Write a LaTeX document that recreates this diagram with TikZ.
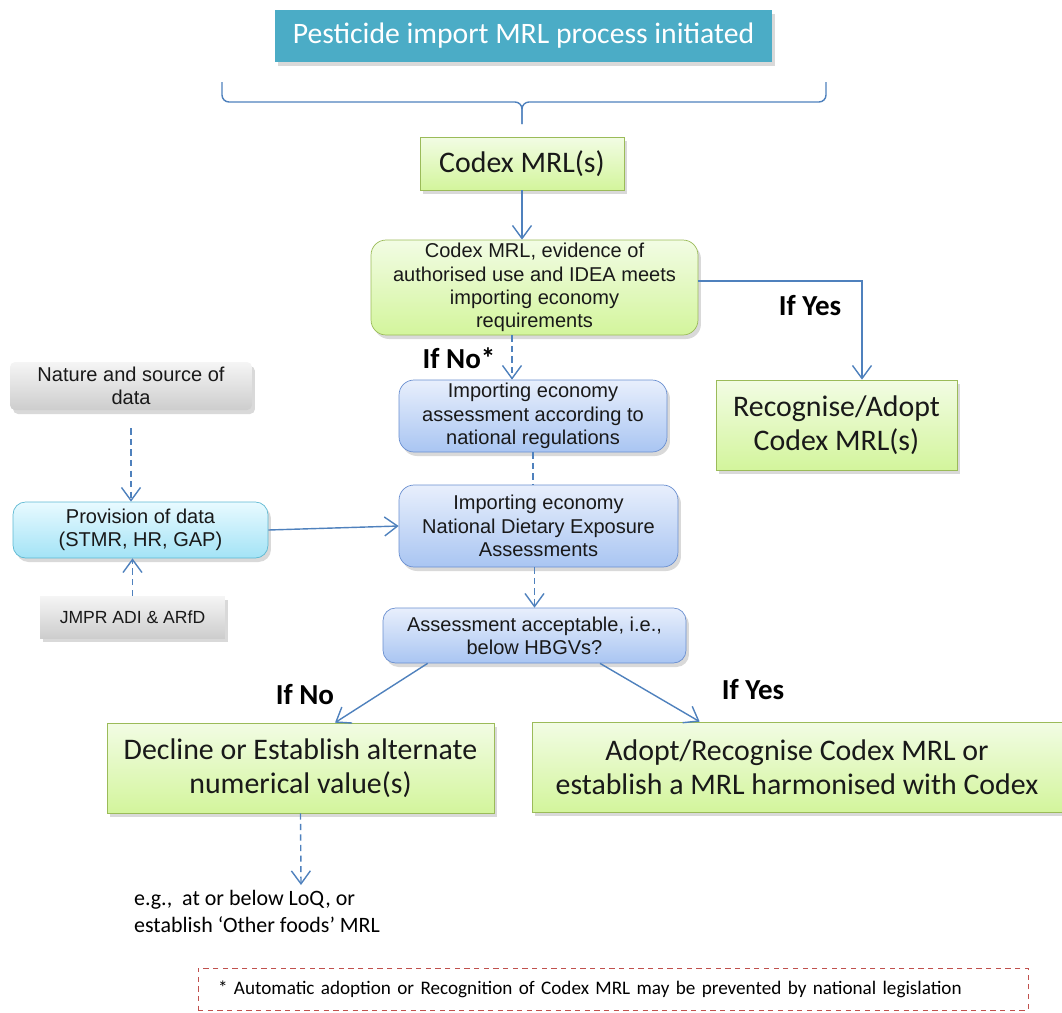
\documentclass[tikz,border=0pt]{standalone}
\usepackage{fontspec}
\setmainfont{Carlito}
\newfontfamily\arialfont{Liberation Sans}
\usepackage{xcolor}
\definecolor{titleteal}{HTML}{4BACC6}
\definecolor{linkblue}{HTML}{4F81BD}
\definecolor{greenedge}{HTML}{9BBB59}
\definecolor{greentop}{HTML}{F2FCE4}
\definecolor{greenbot}{HTML}{D3F59C}
\definecolor{blueedge}{HTML}{6A8FD0}
\definecolor{bluetop}{HTML}{E8EFFC}
\definecolor{bluebot}{HTML}{A9C5F2}
\definecolor{cyanedge}{HTML}{5DB8D2}
\definecolor{cyantop}{HTML}{E8FAFF}
\definecolor{cyanbot}{HTML}{A3E3F6}
\definecolor{greytop}{HTML}{F5F5F5}
\definecolor{greybot}{HTML}{CDCDCD}
\definecolor{notered}{HTML}{C0504D}
\usepackage{tikz}
\usetikzlibrary{arrows.meta, shadows}

\tikzset{
  box/.style={inner sep=0pt, align=center, text=black!90,
    drop shadow={opacity=0.3, shadow xshift=0.6mm, shadow yshift=-0.8mm}},
  greenbox/.style={box, draw=greenedge, top color=greentop, bottom color=greenbot},
  greenround/.style={greenbox, rounded corners=3mm},
  bluebox/.style={box, draw=blueedge, top color=bluetop, bottom color=bluebot, rounded corners=3mm},
  cyanbox/.style={box, draw=cyanedge, top color=cyantop, bottom color=cyanbot, rounded corners=2.5mm},
  greybox/.style={box, top color=greytop, bottom color=greybot},
  bigtext/.style={font=\fontsize{17}{19.5}\selectfont},
  smalltext/.style={font=\arialfont\fontsize{11.4}{13.2}\selectfont},
  iflabel/.style={font=\bfseries\fontsize{16.5}{18}\selectfont},
  connector/.style={linkblue, line width=0.8pt, -{Straight Barb[length=2.6mm, width=3.8mm]}},
  dashconnector/.style={connector, dash pattern=on 3.5pt off 2.5pt},
}

\begin{document}
\begin{tikzpicture}[x=0.02cm, y=-0.02cm]
    \useasboundingbox (0,0) rectangle (1062,1012);
    % main column
    \node[box, fill=titleteal, text=white, minimum width=9.94cm, minimum height=1.04cm,
        font=\fontsize{16.9}{18}\selectfont] (title) at (523.5,36) {Pesticide import MRL process initiated};
    \coordinate (bracetip) at (522,124);
    \draw[linkblue, line width=0.8pt, rounded corners=4pt] (222,82) -- (222,102) -- (522,102) -- (bracetip);
    \draw[linkblue, line width=0.8pt, rounded corners=4pt] (826,82) -- (826,102) -- (522,102) -- (bracetip);
    \node[greenbox, bigtext, minimum width=4.08cm, minimum height=1.06cm] (codex) at (522,163.5) {Codex MRL(s)};
    \node[greenround, smalltext, minimum width=6.54cm, minimum height=1.9cm] (meets) at (534.5,287.5)
        {Codex MRL, evidence of\\authorised use and IDEA meets\\importing economy\\requirements};
    \node[greenbox, bigtext, minimum width=4.82cm, minimum height=1.8cm] (recog) at (836.5,425)
        {Recognise/Adopt\\Codex MRL(s)};
    \node[bluebox, smalltext, minimum width=5.36cm, minimum height=1.44cm] (natass) at (533,416)
        {Importing economy\\assessment according to\\national regulations};
    \node[bluebox, smalltext, minimum width=5.58cm, minimum height=1.64cm] (nde) at (538.5,526)
        {Importing economy\\National Dietary Exposure\\Assessments};
    \node[bluebox, smalltext, minimum width=6.06cm, minimum height=1.1cm, rounded corners=2.5mm] (accept) at (534.5,635.5)
        {Assessment acceptable, i.e.,\\below HBGVs?};
    \node[greenbox, bigtext, minimum width=7.74cm, minimum height=1.8cm] (decline) at (300.5,768)
        {Decline or Establish alternate\\numerical value(s)};
    \node[greenbox, bigtext, minimum width=10.6cm, minimum height=1.8cm] (adopt) at (797,767)
        {Adopt/Recognise Codex MRL or\\establish a MRL harmonised with Codex};
    % data side
    \node[greybox, smalltext, minimum width=4.84cm, minimum height=0.96cm, rounded corners=1mm] (nature) at (131,386)
        {Nature and source of\\data};
    \node[cyanbox, smalltext, minimum width=5.1cm, minimum height=1.12cm] (provision) at (140.5,530)
        {Provision of data\\(STMR, HR, GAP)};
    \node[greybox, font=\arialfont\fontsize{10}{12}\selectfont, minimum width=3.7cm, minimum height=0.84cm] (jmpr) at (132.5,617)
        {JMPR ADI \& ARfD};
    % labels
    \node[iflabel] (ifyesmeets) at (810,306) {If Yes};
    \node[iflabel] (ifnomeets) at (459,358) {If No*};
    \node[iflabel] (ifnoaccept) at (305,695) {If No};
    \node[iflabel] (ifyesaccept) at (753,690) {If Yes};
    \node[anchor=west, align=left, font=\fontsize{12.5}{15.3}\selectfont] (eg) at (128,911.5)
        {e.g.,\ \ at or below LoQ, or\\establish ‘Other foods’ MRL};
    \node[draw=notered, dash pattern=on 3pt off 2.5pt, inner xsep=0.4cm, inner ysep=0.1cm, text width=15.8cm,
        minimum height=0.84cm, align=left, font=\fontsize{10.9}{12}\selectfont] (note) at (613,989)
        {* Automatic adoption or Recognition of Codex MRL may be prevented by national legislation};
    % connectors
    \draw[connector] (codex.south) -- (codex.south |- meets.north);
    \draw[connector] ([yshift=0.13cm]meets.east) -| ([xshift=0.51cm]recog.north);
    \draw[dashconnector] ([xshift=-0.45cm]meets.south) -- ([xshift=-0.45cm]meets.south |- natass.north);
    \draw[linkblue, line width=0.8pt, dash pattern=on 3.5pt off 2.5pt] (natass.south) -- (natass.south |- nde.north);
    \draw[dashconnector] (accept.north |- nde.south) -- (accept.north);
    \draw[dashconnector, shorten <=0.36cm] (nature.south) -- (nature.south |- provision.north);
    \draw[dashconnector] (jmpr.north) -- (jmpr.north |- provision.south);
    \draw[connector] (provision.east) -- (nde.west);
    \draw[connector] ([xshift=0.9cm]accept.south west) -- ([xshift=0.69cm]decline.north);
    \draw[connector] ([xshift=1.31cm]accept.south) -- ([xshift=3.36cm]adopt.north west);
    \coordinate (egtop) at (301,885);
    \draw[dashconnector] (decline.south) -- (egtop);
\end{tikzpicture}
\end{document}
